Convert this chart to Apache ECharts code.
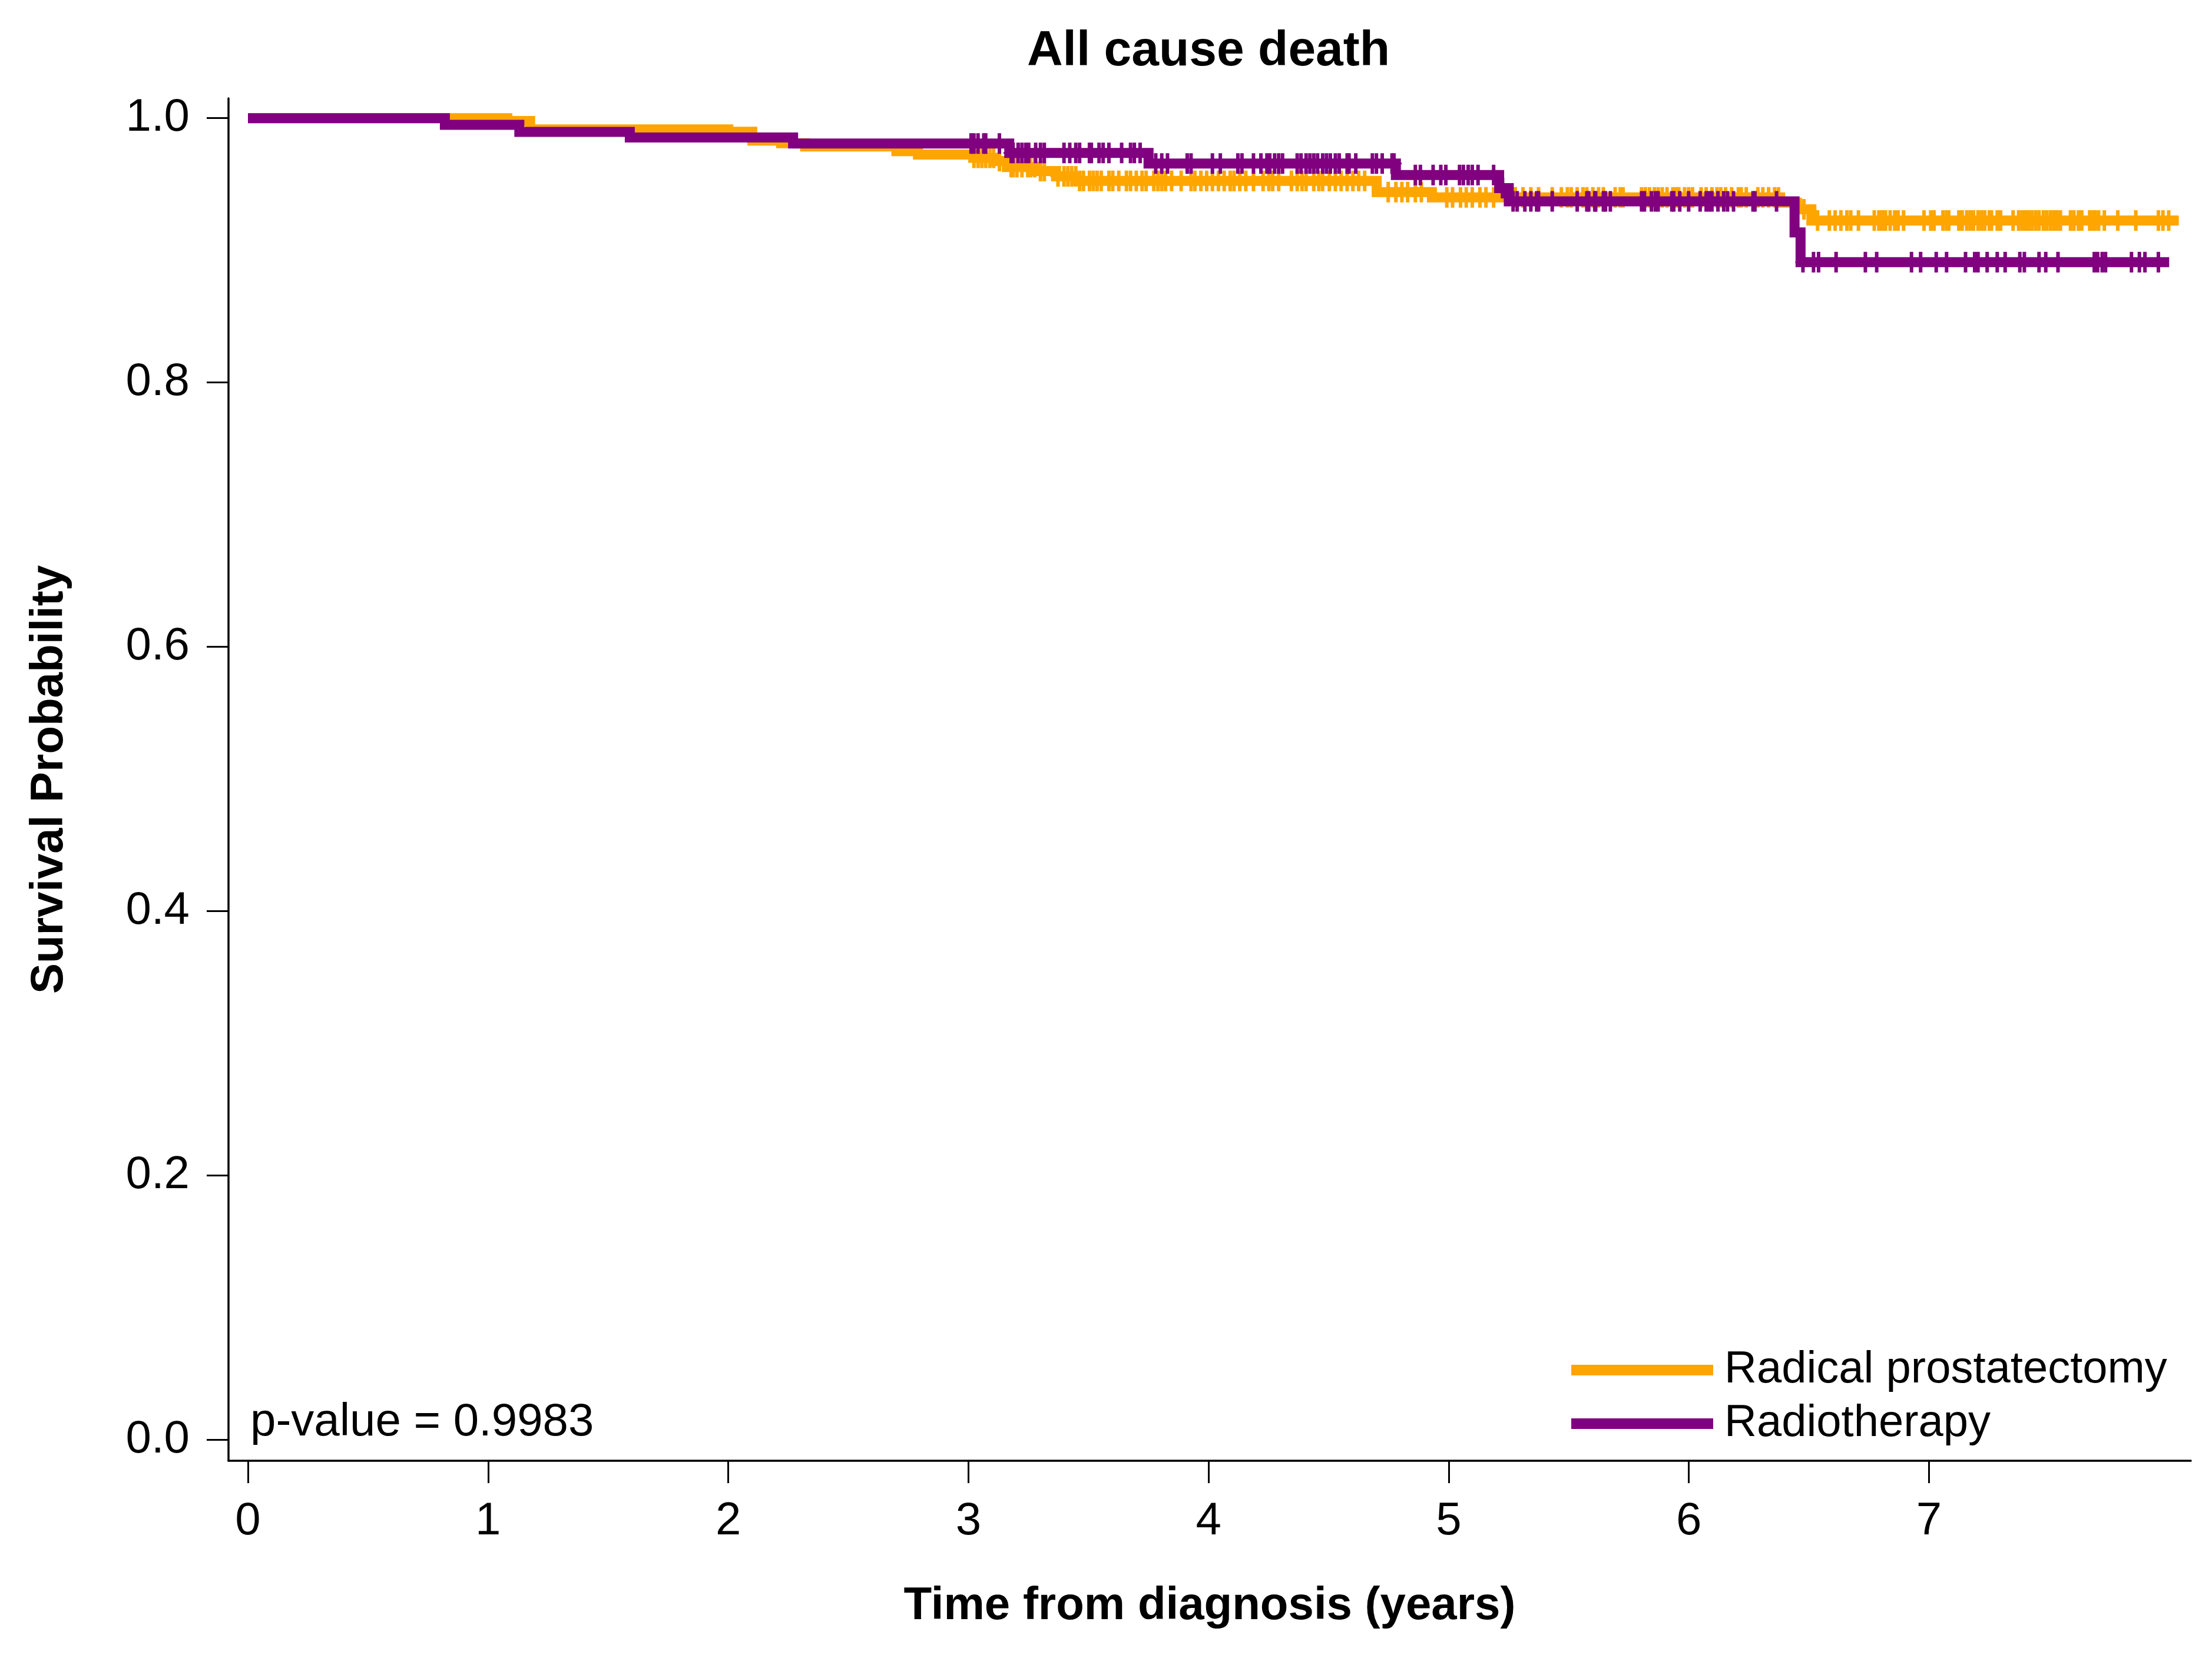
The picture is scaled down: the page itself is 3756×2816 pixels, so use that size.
<!DOCTYPE html>
<html>
<head>
<meta charset="utf-8">
<script src="https://cdn.jsdelivr.net/npm/echarts@6/dist/echarts.min.js"></script>
<style>
html,body{margin:0;padding:0;background:#fff;}
#chart{width:3756px;height:2816px;}
</style>
</head>
<body>
<div id="chart"></div>
<script>
// ---- Data ----
const seriesNames = ['Radical prostatectomy', 'Radiotherapy'];

const rpTimes = [0, 1.08, 1.175, 2.00, 2.10, 2.22, 2.32, 2.70, 2.79, 3.02, 3.11, 3.16, 3.28, 3.365, 3.45, 4.70, 4.93, 6.38, 6.45, 6.51, 8.04];
const rpSurv  = [1.0, 0.9978, 0.9915, 0.9897, 0.983, 0.981, 0.9786, 0.975, 0.9725, 0.970, 0.9675, 0.963, 0.960, 0.956, 0.9525, 0.944, 0.940, 0.936, 0.931, 0.9225, 0.9225];

const rtTimes = [0, 0.82, 1.13, 1.59, 2.27, 3.17, 3.75, 4.78, 5.21, 5.25, 6.44, 6.465, 8.00];
const rtSurv  = [1.0, 0.995, 0.9896, 0.9854, 0.9808, 0.9737, 0.9657, 0.957, 0.947, 0.937, 0.9135, 0.891, 0.891];

const rpCensor = [3.023,3.040,3.056,3.072,3.089,3.105,3.129,3.178,3.186,3.202,3.223,3.247,3.259,3.276,3.300,3.316,3.373,3.398,3.414,3.430,3.447,3.463,3.479,3.504,3.520,3.536,3.553,3.585,3.601,3.626,3.658,3.675,3.699,3.723,3.740,3.772,3.789,3.805,3.821,3.846,3.886,3.927,3.943,3.968,3.992,4.016,4.041,4.065,4.090,4.106,4.130,4.155,4.187,
  4.227,4.251,4.267,4.292,4.345,4.369,4.389,4.406,4.438,4.459,4.475,4.503,4.528,4.552,4.577,4.601,4.625,4.650,4.748,4.780,4.805,4.829,4.861,4.886,4.992,5.016,5.049,5.073,5.098,5.130,5.155,5.187,5.277,5.309,5.342,5.374,5.431,
  5.469,5.494,5.510,5.535,5.559,5.575,5.600,5.624,5.644,5.693,5.714,5.726,5.803,5.819,5.836,5.856,5.872,5.889,5.909,5.933,5.946,5.958,5.982,5.999,6.015,6.051,6.072,6.096,6.117,6.133,6.153,6.178,6.206,6.218,6.239,6.287,6.308,6.332,6.357,6.373,6.479,6.536,6.585,6.609,6.633,6.658,6.674,
  6.706,6.772,6.791,6.805,6.819,6.838,6.857,6.871,6.894,6.979,7.007,7.021,7.058,7.073,7.082,7.124,7.138,7.157,7.171,7.185,7.204,7.218,7.232,7.251,7.260,7.284,7.298,7.350,7.373,7.387,7.401,7.415,7.429,7.444,7.458,7.476,7.490,7.505,7.519,7.533,7.547,7.589,7.603,7.622,7.636,7.669,7.683,7.692,7.706,7.730,7.786,7.861,7.955,7.974,7.998];

const rtCensor = [3.011,3.023,3.040,3.064,3.072,3.129,3.178,3.186,3.207,3.223,3.239,3.251,3.280,3.300,3.316,3.398,3.422,3.447,3.463,3.504,3.512,3.544,3.561,3.585,3.638,3.675,3.691,3.715,3.780,3.805,3.829,3.911,3.927,4.016,4.049,4.122,4.139,4.187,
  4.218,4.243,4.255,4.275,4.292,4.308,4.369,4.385,4.406,4.422,4.438,4.454,4.475,4.491,4.507,4.528,4.544,4.577,4.585,4.613,4.682,4.699,4.723,4.764,4.772,4.861,4.882,4.935,4.967,4.988,5.045,5.061,5.081,5.098,5.122,5.187,5.224,5.268,5.285,5.317,5.342,5.366,5.374,5.431,
  5.535,5.575,5.583,5.608,5.612,5.644,5.653,5.673,5.803,5.815,5.844,5.860,5.872,5.929,5.937,5.962,5.999,6.047,6.072,6.084,6.096,6.121,6.145,6.161,6.186,6.267,6.275,6.365,6.475,6.519,6.540,6.613,
  6.735,6.782,6.927,6.965,7.030,7.073,7.152,7.190,7.204,7.242,7.284,7.317,7.378,7.397,7.458,7.486,7.537,7.688,7.702,7.721,7.735,7.843,7.876,7.899,7.955];

const xTicks = [0, 1, 2, 3, 4, 5, 6, 7];
const yTicks = [0, 0.2, 0.4, 0.6, 0.8, 1.0];
const pValueText = 'p-value = 0.9983';

// ---- helpers ----
function pairs(t, s) { return t.map((v, i) => [v, s[i]]); }
function survAt(times, surv, t) {
  let v = surv[0];
  for (let i = 0; i < times.length; i++) { if (times[i] <= t) v = surv[i]; else break; }
  return v;
}
function censorPts(times, surv, c) { return c.map(t => [t, survAt(times, surv, t)]); }

const FONT = 'Liberation Sans, Arial, Helvetica, sans-serif';
const ORANGE = '#FFA500';
const PURPLE = '#800080';
const PLUS = 'path://M10,0 H16 V16 H26 V19 H16 V35 H10 V19 H0 V16 H10 Z';

const chart = echarts.init(document.getElementById('chart'), null, { renderer: 'canvas' });
chart.setOption({
  animation: false,
  backgroundColor: '#ffffff',
  grid: { left: 388, right: 36, top: 167, bottom: 335, containLabel: false },
  xAxis: {
    type: 'value', min: -0.081, max: 8.09,
    name: 'Time from diagnosis (years)', nameLocation: 'middle', nameGap: 208,
    nameTextStyle: { fontFamily: FONT, fontSize: 78, fontWeight: 'bold', color: '#000', lineHeight: 78 },
    axisLine: { show: true, onZero: false, lineStyle: { color: '#000', width: 3.5 } },
    axisTick: { show: true, inside: false, length: 38, lineStyle: { color: '#000', width: 3 }, customValues: xTicks },
    axisLabel: { show: true, margin: 64, fontFamily: FONT, fontSize: 78, color: '#000', lineHeight: 78,
      customValues: xTicks, formatter: v => String(v) },
    splitLine: { show: false }
  },
  yAxis: {
    type: 'value', min: -0.016, max: 1.015,
    name: 'Survival Probability', nameLocation: 'middle', nameGap: 265,
    nameTextStyle: { fontFamily: FONT, fontSize: 78, fontWeight: 'bold', color: '#000', lineHeight: 78 },
    axisLine: { show: true, onZero: false, lineStyle: { color: '#000', width: 3.5 } },
    axisTick: { show: true, inside: false, length: 37, lineStyle: { color: '#000', width: 3 }, customValues: yTicks },
    axisLabel: { show: true, margin: 66, fontFamily: FONT, fontSize: 78, color: '#000', lineHeight: 78,
      customValues: yTicks, formatter: v => v.toFixed(1) },
    splitLine: { show: false }
  },
  legend: {
    orient: 'vertical', left: 2668, top: 2289, padding: 0,
    itemWidth: 241, itemHeight: 18, itemGap: 15,
    icon: 'rect',
    data: seriesNames.map(n => ({ name: n, icon: 'rect' })),
    textStyle: { fontFamily: FONT, fontSize: 76, color: '#000', lineHeight: 76, padding: [0, 0, 0, 14] },
    selectedMode: false
  },
  graphic: [
    { type: 'text', style: { text: 'All cause death', x: 2052, y: 88, align: 'center', verticalAlign: 'middle',
        font: 'bold 84px ' + FONT, fill: '#000' } },
    { type: 'text', style: { text: pValueText, x: 425, y: 2416, align: 'left', verticalAlign: 'middle',
        font: '78px ' + FONT, fill: '#000' } }
  ],
  series: [
    { name: seriesNames[0], type: 'line', step: 'end', data: pairs(rpTimes, rpSurv), symbol: 'none',
      lineStyle: { color: ORANGE, width: 17, cap: 'butt', join: 'miter' }, itemStyle: { color: ORANGE }, z: 2 },
    { name: seriesNames[0], type: 'scatter', data: censorPts(rpTimes, rpSurv, rpCensor), symbol: PLUS,
      symbolSize: [26, 35], itemStyle: { color: ORANGE, opacity: 1 }, z: 3 },
    { name: seriesNames[1], type: 'line', step: 'end', data: pairs(rtTimes, rtSurv), symbol: 'none',
      lineStyle: { color: PURPLE, width: 17, cap: 'butt', join: 'miter' }, itemStyle: { color: PURPLE }, z: 4 },
    { name: seriesNames[1], type: 'scatter', data: censorPts(rtTimes, rtSurv, rtCensor), symbol: PLUS,
      symbolSize: [26, 35], itemStyle: { color: PURPLE, opacity: 1 }, z: 5 }
  ]
});
</script>
</body>
</html>
